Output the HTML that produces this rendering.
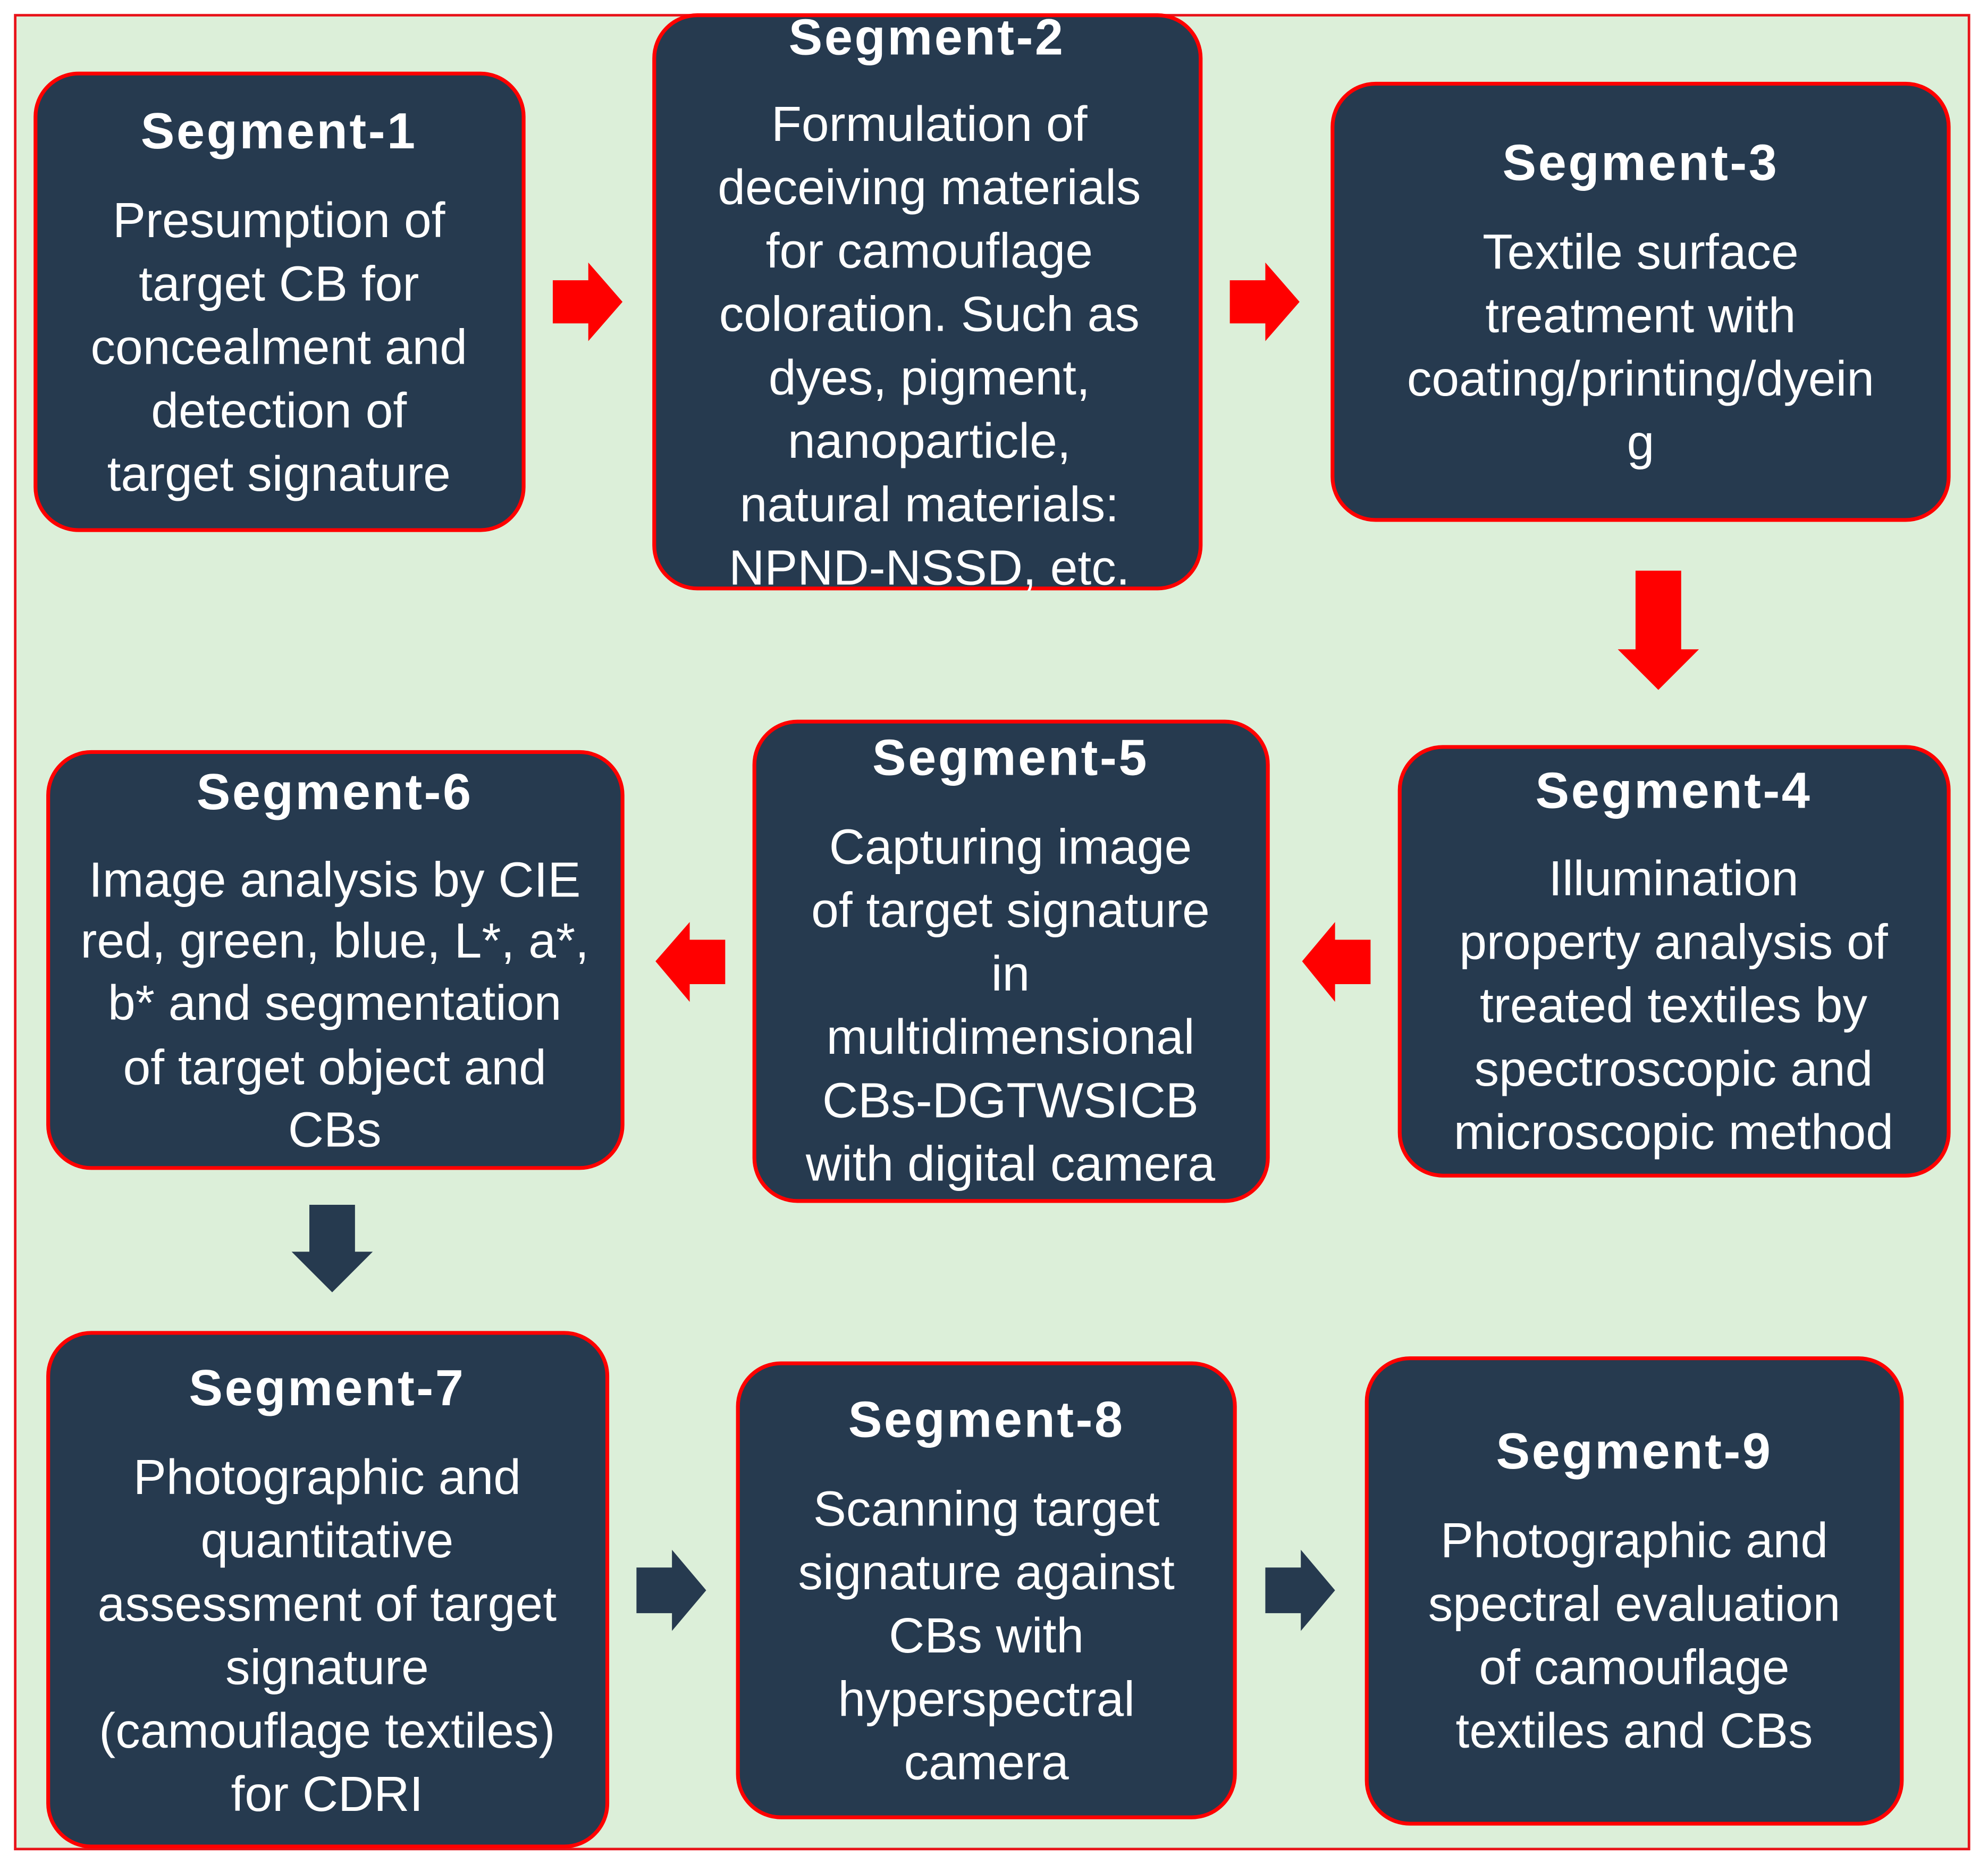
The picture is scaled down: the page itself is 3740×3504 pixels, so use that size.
<!DOCTYPE html>
<html><head><meta charset="utf-8"><style>
html,body{margin:0;padding:0;background:#fff;}
svg{display:block;}
text{font-family:"Liberation Sans",sans-serif;fill:#fff;text-anchor:middle;}
.t{font-weight:bold;font-size:40px;letter-spacing:1.5px;}
.b{font-size:39px;}
</style></head><body>
<svg width="3740" height="3504" viewBox="0 0 1568 1469" preserveAspectRatio="none">
<rect x="0" y="0" width="1568" height="1469" fill="#fff"/>
<rect x="12" y="12" width="1541" height="1446" fill="#dcefd9" stroke="#e8141a" stroke-width="2"/>
<g fill="#263a4f" stroke="#f00" stroke-width="3">
<rect x="28" y="58" width="385" height="360" rx="34"/>
<rect x="516" y="12" width="431" height="452" rx="34"/>
<rect x="1051" y="66" width="486" height="344" rx="34"/>
<rect x="1104" y="589" width="433" height="338" rx="34"/>
<rect x="595" y="569" width="405" height="378" rx="34"/>
<rect x="38" y="593" width="453" height="328" rx="34"/>
<rect x="38" y="1051" width="441" height="405" rx="34"/>
<rect x="582" y="1075" width="392" height="358" rx="34"/>
<rect x="1078" y="1071" width="422" height="367" rx="34"/>
</g>
<g fill="#f00">
<polygon points="436,221 464,221 464,207 491,238 464,269 464,255 436,255"/>
<polygon points="970,221 998,221 998,207 1025,238 998,269 998,255 970,255"/>
<polygon points="1290,450 1326,450 1326,512 1340,512 1308,544 1276,512 1290,512"/>
<polygon points="572,741 544,741 544,727 517,758 544,790 544,776 572,776"/>
<polygon points="1081,741 1053,741 1053,727 1027,758 1053,790 1053,776 1081,776"/>
</g>
<g fill="#263a4f">
<polygon points="244,950 280,950 280,987 294,987 262,1019 230,987 244,987"/>
<polygon points="502,1236 530,1236 530,1222 557,1254 530,1286 530,1272 502,1272"/>
<polygon points="998,1236 1026,1236 1026,1222 1053,1254 1026,1286 1026,1272 998,1272"/>
</g>
<text class="t" x="220" y="117">Segment-1</text>
<text class="b" x="220" y="187">Presumption of</text>
<text class="b" x="220" y="237">target CB for</text>
<text class="b" x="220" y="287">concealment and</text>
<text class="b" x="220" y="337">detection of</text>
<text class="b" x="220" y="387">target signature</text>

<text class="t" x="731" y="43">Segment-2</text>
<text class="b" x="733" y="111">Formulation of</text>
<text class="b" x="733" y="161">deceiving materials</text>
<text class="b" x="733" y="211">for camouflage</text>
<text class="b" x="733" y="261">coloration. Such as</text>
<text class="b" x="733" y="311">dyes, pigment,</text>
<text class="b" x="733" y="361">nanoparticle,</text>
<text class="b" x="733" y="411">natural materials:</text>
<text class="b" x="733" y="461">NPND-NSSD, etc.</text>

<text class="t" x="1294" y="142">Segment-3</text>
<text class="b" x="1294" y="212">Textile surface</text>
<text class="b" x="1294" y="262">treatment with</text>
<text class="b" x="1294" y="312">coating/printing/dyein</text>
<text class="b" x="1294" y="362">g</text>

<text class="t" x="1320" y="637">Segment-4</text>
<text class="b" x="1320" y="706">Illumination</text>
<text class="b" x="1320" y="756">property analysis of</text>
<text class="b" x="1320" y="806">treated textiles by</text>
<text class="b" x="1320" y="856">spectroscopic and</text>
<text class="b" x="1320" y="906">microscopic method</text>

<text class="t" x="797" y="611">Segment-5</text>
<text class="b" x="797" y="681">Capturing  image</text>
<text class="b" x="797" y="731">of target signature</text>
<text class="b" x="797" y="781">in</text>
<text class="b" x="797" y="831">multidimensional</text>
<text class="b" x="797" y="881">CBs-DGTWSICB</text>
<text class="b" x="797" y="931">with digital camera</text>

<text class="t" x="264" y="638">Segment-6</text>
<text class="b" x="264" y="707">Image analysis by CIE</text>
<text class="b" x="264" y="755">red, green, blue, L*, a*,</text>
<text class="b" x="264" y="804">b* and segmentation</text>
<text class="b" x="264" y="855">of target object  and</text>
<text class="b" x="264" y="904">CBs</text>

<text class="t" x="258" y="1108">Segment-7</text>
<text class="b" x="258" y="1178">Photographic and</text>
<text class="b" x="258" y="1228">quantitative</text>
<text class="b" x="258" y="1278">assessment of target</text>
<text class="b" x="258" y="1328">signature</text>
<text class="b" x="258" y="1378">(camouflage textiles)</text>
<text class="b" x="258" y="1428">for CDRI</text>

<text class="t" x="778" y="1133">Segment-8</text>
<text class="b" x="778" y="1203">Scanning target</text>
<text class="b" x="778" y="1253">signature against</text>
<text class="b" x="778" y="1303">CBs  with</text>
<text class="b" x="778" y="1353">hyperspectral</text>
<text class="b" x="778" y="1403">camera</text>

<text class="t" x="1289" y="1158">Segment-9</text>
<text class="b" x="1289" y="1228">Photographic  and</text>
<text class="b" x="1289" y="1278">spectral evaluation</text>
<text class="b" x="1289" y="1328">of camouflage</text>
<text class="b" x="1289" y="1378">textiles and CBs</text>
</svg>
</body></html>
